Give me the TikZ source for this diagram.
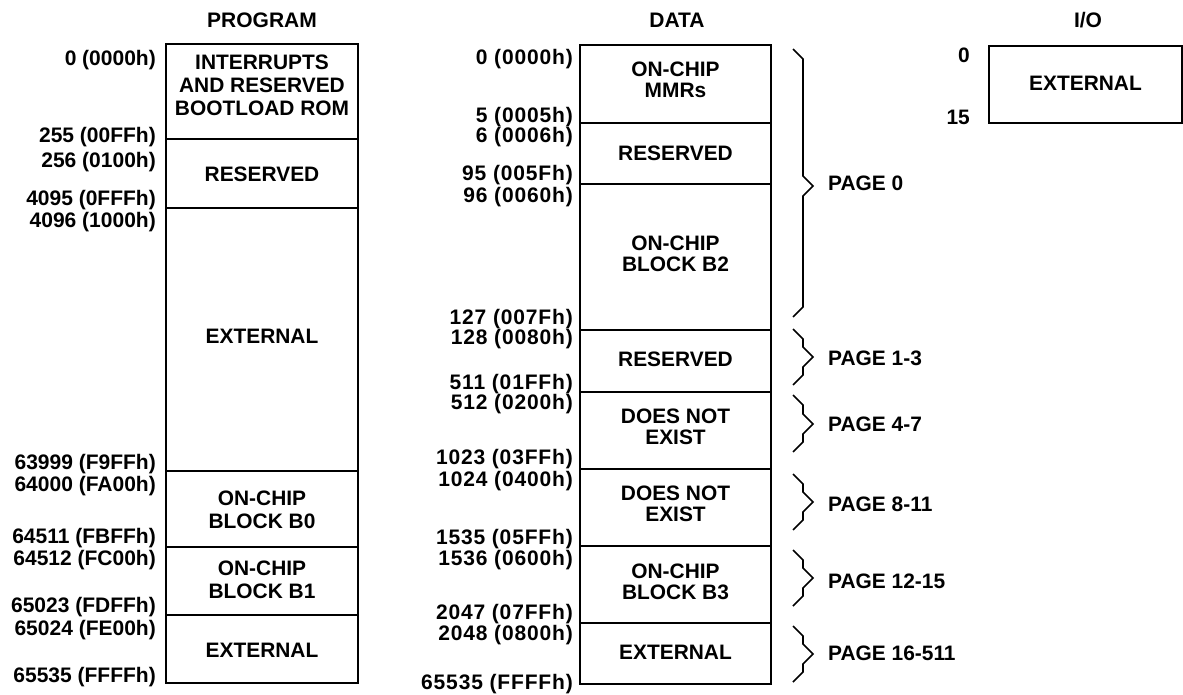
\documentclass[tikz,border=0pt]{standalone}
\usepackage{fontspec}
\setmainfont{Liberation Sans}
\newfontfamily\dlfont[LetterSpace=4]{Liberation Sans}
\begin{document}
\begin{tikzpicture}[x=1pt,y=-1pt,
  box/.style={draw, line width=1.9pt, inner sep=0pt, minimum width=192pt},
  btxt/.style={inner sep=0pt, align=center, font=\fontsize{20.9}{23}\selectfont\bfseries},
  dtxt/.style={inner sep=0pt, align=center, font=\fontsize{20.9}{21}\selectfont\bfseries},
  plbl/.style={anchor=base east, inner sep=0pt, font=\fontsize{21}{23}\selectfont\bfseries},
  dlbl/.style={anchor=base east, inner sep=0pt, font=\dlfont\fontsize{21}{23}\selectfont\bfseries},
  ttl/.style={anchor=base, inner sep=0pt, font=\fontsize{21}{23}\selectfont\bfseries},
  pg/.style={anchor=base west, inner sep=0pt, font=\fontsize{20.9}{23}\selectfont\bfseries},
  brc/.style={line width=1.7pt, line join=miter}]
\useasboundingbox (0,0) rectangle (1183,694);

% titles
\node[ttl] (tprog) at (262,27.5) {PROGRAM};
\node[ttl] (tdata) at (677,27.5) {DATA};
\node[ttl] (tio) at (1088,27.5) {I/O};

% ---------- PROGRAM ----------
\node[box, minimum height=95pt] (p0) at (262,91.5) {};
\node[btxt] (p0t) at (262,85) {INTERRUPTS\\AND RESERVED\\BOOTLOAD ROM};
\node[box, minimum height=69pt] (p1) at (262,173.5) {};
\node[btxt] (p1t) at (262,174) {RESERVED};
\node[box, minimum height=263pt] (p2) at (262,339.5) {};
\node[btxt] (p2t) at (262,336) {EXTERNAL};
\node[box, minimum height=76pt] (p3) at (262,509) {};
\node[btxt] (p3t) at (262,510) {ON-CHIP\\BLOCK B0};
\node[box, minimum height=68pt] (p4) at (262,581) {};
\node[btxt] (p4t) at (262,579.5) {ON-CHIP\\BLOCK B1};
\node[box, minimum height=68pt] (p5) at (262,649) {};
\node[btxt] (p5t) at (262,650) {EXTERNAL};

\node[plbl] at (156,65.5) {0 (0000h)};
\node[plbl] at (156,142.5) {255 (00FFh)};
\node[plbl] at (156,167.5) {256 (0100h)};
\node[plbl] at (156,205.5) {4095 (0FFFh)};
\node[plbl] at (156,227.5) {4096 (1000h)};
\node[plbl] at (156,469.5) {63999 (F9FFh)};
\node[plbl] at (156,491.5) {64000 (FA00h)};
\node[plbl] at (156,543.5) {64511 (FBFFh)};
\node[plbl] at (156,565.5) {64512 (FC00h)};
\node[plbl] at (156,612.5) {65023 (FDFFh)};
\node[plbl] at (156,635.5) {65024 (FE00h)};
\node[plbl] at (156,682.5) {65535 (FFFFh)};

% ---------- DATA ----------
\node[box, minimum width=191pt, minimum height=78pt] (d0) at (675.5,84) {};
\node[dtxt] (d0t) at (675.5,80) {ON-CHIP\\MMRs};
\node[box, minimum width=191pt, minimum height=61pt] (d1) at (675.5,153.5) {};
\node[dtxt] (d1t) at (675.5,153) {RESERVED};
\node[box, minimum width=191pt, minimum height=146pt] (d2) at (675.5,257) {};
\node[dtxt] (d2t) at (675.5,253.5) {ON-CHIP\\BLOCK B2};
\node[box, minimum width=191pt, minimum height=62pt] (d3) at (675.5,361) {};
\node[dtxt] (d3t) at (675.5,359) {RESERVED};
\node[box, minimum width=191pt, minimum height=77pt] (d4) at (675.5,430.5) {};
\node[dtxt] (d4t) at (675.5,427) {DOES NOT\\EXIST};
\node[box, minimum width=191pt, minimum height=77pt] (d5) at (675.5,507.5) {};
\node[dtxt] (d5t) at (675.5,504) {DOES NOT\\EXIST};
\node[box, minimum width=191pt, minimum height=77pt] (d6) at (675.5,584.5) {};
\node[dtxt] (d6t) at (675.5,582) {ON-CHIP\\BLOCK B3};
\node[box, minimum width=191pt, minimum height=61pt] (d7) at (675.5,653.5) {};
\node[dtxt] (d7t) at (675.5,652) {EXTERNAL};

\node[dlbl] at (573,64.5) {0 (0000h)};
\node[dlbl] at (573,122.5) {5 (0005h)};
\node[dlbl] at (573,142.5) {6 (0006h)};
\node[dlbl] at (573,180.5) {95 (005Fh)};
\node[dlbl] at (573,202.5) {96 (0060h)};
\node[dlbl] at (573,324.5) {127 (007Fh)};
\node[dlbl] at (573,344.5) {128 (0080h)};
\node[dlbl] at (573,389.5) {511 (01FFh)};
\node[dlbl] at (573,409.5) {512 (0200h)};
\node[dlbl] at (573,464.5) {1023 (03FFh)};
\node[dlbl] at (573,486.5) {1024 (0400h)};
\node[dlbl] at (573,544.5) {1535 (05FFh)};
\node[dlbl] at (573,565.5) {1536 (0600h)};
\node[dlbl] at (573,619.5) {2047 (07FFh)};
\node[dlbl] at (573,640.5) {2048 (0800h)};
\node[dlbl] at (573,689.5) {65535 (FFFFh)};

% braces
\draw[brc] (793,49) -- (803,59) -- (803,176) -- (813,186) -- (803,196) -- (803,307) -- (793,317);
\draw[brc] (793,329) -- (803,339) -- (803,347) -- (813,357) -- (803,367) -- (803,375) -- (793,385);
\draw[brc] (793,395) -- (803,405) -- (803,414) -- (813,424) -- (803,434) -- (803,442) -- (793,452);
\draw[brc] (793,474) -- (803,484) -- (803,492) -- (813,502) -- (803,512) -- (803,520) -- (793,530);
\draw[brc] (793,550) -- (803,560) -- (803,568) -- (813,578) -- (803,588) -- (803,596) -- (793,606);
\draw[brc] (793,626) -- (803,636) -- (803,644) -- (813,654) -- (803,664) -- (803,672) -- (793,682);

\node[pg] (pg0) at (828,190.5) {PAGE 0};
\node[pg] (pg1) at (828,365.5) {PAGE 1-3};
\node[pg] (pg2) at (828,431.5) {PAGE 4-7};
\node[pg] (pg3) at (828,511.5) {PAGE 8-11};
\node[pg] (pg4) at (828,588.5) {PAGE 12-15};
\node[pg] (pg5) at (828,660.5) {PAGE 16-511};

% ---------- I/O ----------
\node[box, minimum width=193pt, minimum height=77pt] (io) at (1085.5,84.5) {};
\node[btxt] (iot) at (1085.5,83) {EXTERNAL};
\node[plbl, font=\fontsize{20.9}{23}\selectfont\bfseries] at (970,62.5) {0};
\node[plbl, font=\fontsize{20.9}{23}\selectfont\bfseries] at (970,124.5) {15};
\end{tikzpicture}
\end{document}
